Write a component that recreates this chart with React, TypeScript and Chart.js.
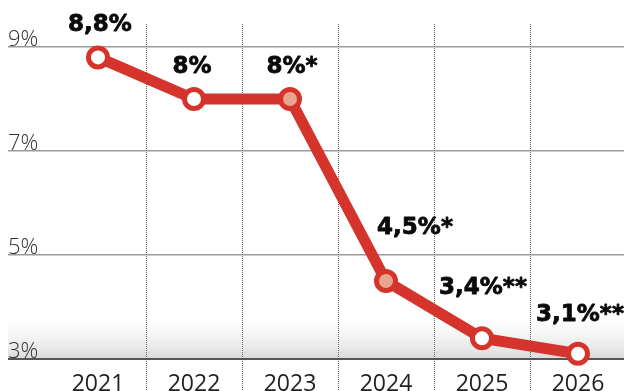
import React, { useEffect, useRef } from 'react';
import { Chart, registerables } from 'chart.js';

Chart.register(...registerables);

const categories = ['2021', '2022', '2023', '2024', '2025', '2026'];
const rates = [8.8, 8.0, 8.0, 4.5, 3.4, 3.1];
const valueLabels = ['8,8%', '8%', '8%*', '4,5%*', '3,4%**', '3,1%**'];
const estimated = [false, false, true, true, false, false];
const yTicks = [3, 5, 7, 9];

const RED = '#d4342c';
const SALMON = '#e9a68c';
const labelOffsets: [number, number][] = [
  [2, -32],
  [-2, -32],
  [2, -32],
  [29, -53],
  [1, -50],
  [2, -39],
];

export default function App() {
  const ref = useRef<HTMLCanvasElement>(null);

  useEffect(() => {
    const canvas = ref.current;
    if (!canvas) return;

    const bandPlugin = {
      id: 'band',
      beforeDraw(chart: any) {
        const { ctx } = chart;
        const yScale = chart.scales.y;
        const bottom = yScale.getPixelForValue(yTicks[0]);
        const top = bottom - 42;
        const g = ctx.createLinearGradient(0, top, 0, bottom);
        g.addColorStop(0, 'rgba(240,240,240,0)');
        g.addColorStop(1, 'rgba(218,218,218,1)');
        ctx.save();
        ctx.fillStyle = g;
        ctx.fillRect(8, top, chart.width - 8, bottom - top);
        ctx.restore();
      },
    };

    const labelsPlugin = {
      id: 'valueLabels',
      afterDatasetsDraw(chart: any) {
        const { ctx } = chart;
        const meta = chart.getDatasetMeta(0);
        ctx.save();
        ctx.font = 'bold 23px "DejaVu Sans", sans-serif';
        ctx.textAlign = 'center';
        ctx.textBaseline = 'middle';
        ctx.fillStyle = '#0a0a0a';
        ctx.strokeStyle = '#0a0a0a';
        ctx.lineWidth = 0.8;
        ctx.lineJoin = 'round';
        meta.data.forEach((pt: any, i: number) => {
          const [dx, dy] = labelOffsets[i];
          ctx.fillText(valueLabels[i], pt.x + dx, pt.y + dy);
          ctx.strokeText(valueLabels[i], pt.x + dx, pt.y + dy);
        });
        ctx.restore();
      },
    };

    const chart = new Chart(canvas, {
      type: 'line',
      data: {
        labels: categories,
        datasets: [
          {
            data: rates,
            borderColor: RED,
            borderWidth: 11,
            pointRadius: 9.5,
            pointBorderWidth: 5,
            pointBackgroundColor: estimated.map((e) => (e ? SALMON : '#ffffff')),
            pointBorderColor: RED,
            tension: 0,
            clip: false as any,
          },
        ],
      },
      options: {
        responsive: false,
        animation: false,
        layout: { autoPadding: false, padding: { top: 24, left: 8, right: 0, bottom: 0 } },
        plugins: { legend: { display: false }, tooltip: { enabled: false } },
        scales: {
          x: {
            type: 'category',
            offset: true,
            border: { display: false, dash: [1, 1] },
            grid: {
              offset: true,
              drawTicks: true,
              tickLength: 32,
              lineWidth: 1,
              color: (c: any) => (c.index === 0 ? 'rgba(0,0,0,0)' : '#666'),
              tickColor: (c: any) => (c.index === 0 ? 'rgba(0,0,0,0)' : '#666'),
              tickBorderDash: [1, 1],
            },
            ticks: {
              padding: -20,
              color: '#222',
              font: { family: '"Open Sans", sans-serif', size: 23, weight: '400' as any },
              maxRotation: 0,
            },
            afterFit(scale: any) {
              scale.height = 32;
              scale.paddingLeft = 0;
              scale.paddingRight = 0;
            },
          },
          y: {
            type: 'linear',
            min: 3,
            max: 3 + 335 / 52,
            border: { display: false },
            afterBuildTicks(scale: any) {
              scale.ticks = yTicks.map((v) => ({ value: v }));
            },
            afterFit(scale: any) {
              scale.width = 42;
              scale.paddingTop = 0;
              scale.paddingBottom = 0;
            },
            grid: {
              drawTicks: true,
              tickLength: 42,
              color: (c: any) => (c.tick && c.tick.value === 3 ? '#555' : '#9a9a9a'),
              tickColor: (c: any) => (c.tick && c.tick.value === 3 ? '#555' : '#9a9a9a'),
              lineWidth: (c: any) => (c.tick && c.tick.value === 3 ? 2 : 1.5),
            },
            ticks: {
              crossAlign: 'far',
              labelOffset: -7,
              padding: 0,
              color: '#333',
              font: { family: '"Open Sans", sans-serif', size: 22, weight: '300' as any },
              callback: (v: any) => `${v}%`,
            },
          },
        },
      },
      plugins: [bandPlugin, labelsPlugin],
    });

    return () => chart.destroy();
  }, []);

  return (
    <div
      style={{
        position: 'fixed',
        left: 0,
        top: 0,
        width: 624,
        height: 391,
        overflow: 'hidden',
        background: '#fff',
      }}
    >
      <canvas ref={ref} width={626} height={391} style={{ display: 'block', width: 626, height: 391 }} />
    </div>
  );
}
